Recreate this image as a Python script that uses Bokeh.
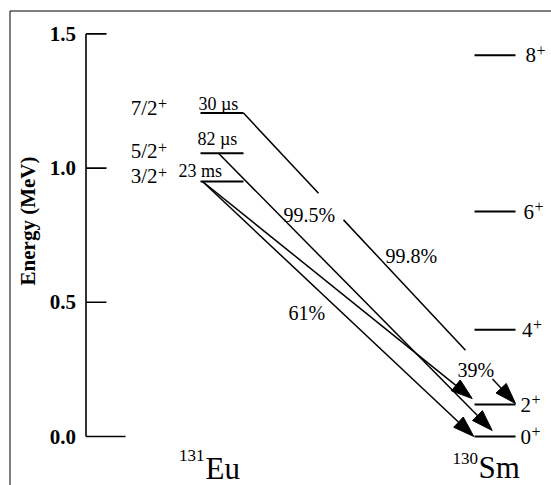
import math
from bokeh.plotting import figure
from bokeh.models import Range1d
from bokeh.core.properties import value
from bokeh.embed import file_html
from bokeh.resources import INLINE

# ---------------- data ----------------
tick_values = [0.0, 0.5, 1.0, 1.5]
tick_labels = ["0.0", "0.5", "1.0", "1.5"]
axis_label = "Energy (MeV)"

eu_name, eu_mass = "Eu", "131"
eu_spins = ["7/2", "5/2", "3/2"]
eu_parities = ["+", "+", "+"]
eu_energies = [1.205, 1.055, 0.950]
eu_halflives = ["30 µs", "82 µs", "23 ms"]

sm_name, sm_mass = "Sm", "130"
sm_spins = ["8", "6", "4", "2", "0"]
sm_parities = ["+", "+", "+", "+", "+"]
sm_energies = [1.420, 0.838, 0.398, 0.119, 0.0]

trans_from = [0, 1, 2, 2]          # index into Eu levels
trans_to = [3, 4, 4, 3]            # index into Sm levels
branch_labels = ["99.8%", "99.5%", "61%", "39%"]

# ---------------- layout (pixels) ----------------
W, H = 551, 485
ZERO_Y = 436.0
PX_PER_MEV = 268.4


def dx(px):
    return px


def dy(pyy):
    return (ZERO_Y - pyy) / PX_PER_MEV


def py(E):
    return ZERO_Y - E * PX_PER_MEV


FONT = value("Liberation Serif")

p = figure(width=W, height=H, x_range=Range1d(0, W),
           y_range=Range1d(dy(H), dy(0)),
           output_backend="svg", toolbar_location=None,
           x_axis_type=None, y_axis_type=None, min_border=0,
           outline_line_color=None)
p.background_fill_color = "white"
p.border_fill_color = "white"

# outer frame (left + top)
p.line(x=[dx(9.5), dx(9.5), W], y=[dy(H), dy(10.5), dy(10.5)],
       line_color="black", line_width=1)

# energy axis
AX = 85.5
p.segment(x0=[dx(AX)], y0=[min(tick_values)], x1=[dx(AX)], y1=[max(tick_values)],
          line_color="black", line_width=1.6)
tick_end = [dx(125) if v == 0 else dx(106) for v in tick_values]
p.segment(x0=[dx(AX)] * len(tick_values), y0=tick_values, x1=tick_end, y1=tick_values,
          line_color="black", line_width=1.6)
p.text(x=[dx(75.5)] * len(tick_values), y=tick_values, text=tick_labels,
       text_font=FONT, text_font_size="21px", text_font_style="bold",
       text_align="right", text_baseline="middle", text_color="black")
p.text(x=[dx(27)] * 1, y=[dy(220.5)], text=[axis_label], angle=math.pi / 2,
       text_font=FONT, text_font_size="21px", text_font_style="bold",
       text_align="center", text_baseline="middle", text_color="black")

# levels
EU_X = (200, 243)
SM_X = (474, 515)
p.segment(x0=[dx(EU_X[0])] * 3, y0=eu_energies, x1=[dx(EU_X[1])] * 3, y1=eu_energies,
          line_color="black", line_width=2)
p.segment(x0=[dx(SM_X[0])] * 5, y0=sm_energies, x1=[dx(SM_X[1])] * 5, y1=sm_energies,
          line_color="black", line_width=2)

# Eu spin labels (glyph centres relative to level)
eu_lab_dy = [-5.2, -2.0, -5.4]
eu_c = [py(e) + o for e, o in zip(eu_energies, eu_lab_dy)]
p.text(x=[dx(157)] * 3, y=[dy(c) for c in eu_c], text=eu_spins, text_font=FONT,
       text_font_size="21px", text_align="right", text_baseline="middle",
       text_color="black")
p.text(x=[dx(157.5)] * 3, y=[dy(c - 4) for c in eu_c], text=eu_parities, text_font=FONT,
       text_font_size="16px", text_align="left", text_baseline="middle",
       text_color="black")

# half-lives
hl_x = [198, 197, 178]
hl_dy = [-9.2, -14.5, -10.5]
p.text(x=[dx(v) for v in hl_x], y=[dy(py(e) + o) for e, o in zip(eu_energies, hl_dy)],
       text=eu_halflives, text_font=FONT, text_font_size="18px",
       text_align="left", text_baseline="middle", text_color="black")

# Sm spin labels
sm_lab_x = [525, 523, 521.5, 520, 520]
p.text(x=[dx(v) for v in sm_lab_x], y=sm_energies, text=sm_spins,
       text_font=FONT, text_font_size="21px", text_align="left",
       text_baseline="middle", text_color="black")
p.text(x=[dx(v + 11) for v in sm_lab_x], y=[dy(py(e) - 5) for e in sm_energies],
       text=sm_parities, text_font=FONT, text_font_size="16px", text_align="left",
       text_baseline="middle", text_color="black")

# isotope names
p.text(x=[dx(205), dx(478)], y=[dy(467.5), dy(466.5)], text=[eu_name, sm_name],
       text_font=FONT, text_font_size="31px", text_align="left",
       text_baseline="middle", text_color="black")
p.text(x=[dx(204), dx(477.5)], y=[dy(455), dy(457.5)], text=[eu_mass, sm_mass],
       text_font=FONT, text_font_size="17px", text_align="right",
       text_baseline="middle", text_color="black")

# transitions (arrows)
start_px = [EU_X[1], 218, EU_X[0] + 2, EU_X[0] + 2]
end_px = [SM_X[1], 491.7, 473.3, 471.7]
tip_raise = [1.0, 6.0, 0.0, 6.0]
gaps = [[(318, 343), (465, 492)], [], [], []]
HEAD_L, HEAD_W = 21.0, 7.0

sx0, sy0, sx1, sy1 = [], [], [], []
hx, hy = [], []
for i in range(len(trans_from)):
    x0, y0 = start_px[i], py(eu_energies[trans_from[i]])
    x1, y1 = end_px[i], py(sm_energies[trans_to[i]]) - tip_raise[i]
    L = math.hypot(x1 - x0, y1 - y0)
    ux, uy = (x1 - x0) / L, (y1 - y0) / L
    bx = x1 - HEAD_L * ux * 0.85
    pts = [x0]
    for g in gaps[i]:
        pts += [g[0], g[1]]
    pts.append(bx)

    def yat(xx, x0=x0, y0=y0, x1=x1, y1=y1):
        return y0 + (xx - x0) * (y1 - y0) / (x1 - x0)

    for k in range(0, len(pts), 2):
        sx0.append(dx(pts[k])); sy0.append(dy(yat(pts[k])))
        sx1.append(dx(pts[k + 1])); sy1.append(dy(yat(pts[k + 1])))
    hbx, hby = x1 - HEAD_L * ux, y1 - HEAD_L * uy
    nx, ny = -uy, ux
    hx.append([dx(x1), dx(hbx + HEAD_W * nx), dx(hbx - HEAD_W * nx)])
    hy.append([dy(y1), dy(hby + HEAD_W * ny), dy(hby - HEAD_W * ny)])

p.segment(x0=sx0, y0=sy0, x1=sx1, y1=sy1, line_color="black", line_width=1.5)
p.patches(xs=hx, ys=hy, fill_color="black", line_color="black", line_width=1)

# branching labels (left edge, glyph centre)
lab_x = [385, 283, 288, 457]
lab_y = [255.5, 214, 312, 369.5]
p.text(x=[dx(v) for v in lab_x], y=[dy(v) for v in lab_y], text=branch_labels,
       text_font=FONT, text_font_size="20px", text_align="left",
       text_baseline="middle", text_color="black")

open("out.html", "w").write(file_html(p, INLINE))
